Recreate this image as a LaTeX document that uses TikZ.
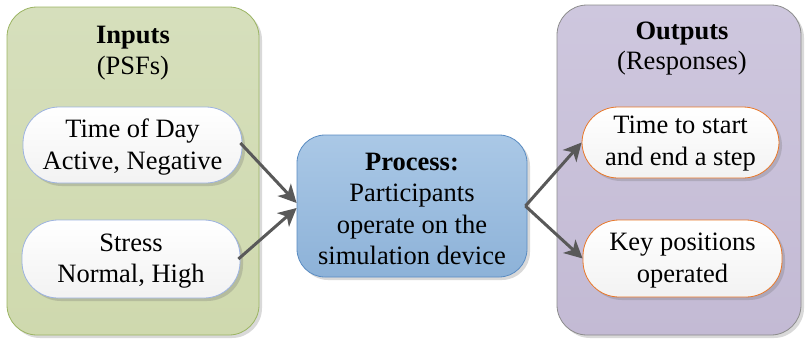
\documentclass[tikz,border=0pt]{standalone}
\usepackage{fontspec}
\setmainfont{Liberation Serif}
\usetikzlibrary{shadows,arrows.meta}

\definecolor{panelgreen}{HTML}{CFD9AE}
\definecolor{panelgreenTop}{HTML}{D6DFBC}
\definecolor{edgegreen}{HTML}{9BB462}
\definecolor{panelpurple}{HTML}{C3BAD4}
\definecolor{panelpurpleTop}{HTML}{CEC7DE}
\definecolor{edgegrey}{HTML}{8C8C8C}
\definecolor{procTop}{HTML}{AAC8E6}
\definecolor{procBot}{HTML}{8DB2D8}
\definecolor{procEdge}{HTML}{5A8CC2}
\definecolor{pillBlue}{HTML}{9DB3E0}
\definecolor{pillOrange}{HTML}{E8782A}
\definecolor{arrowgrey}{HTML}{595959}

\tikzset{
  txt/.style={font=\fontsize{26.5}{31.5}\selectfont, align=center, inner sep=0pt},
  softshadow/.style={drop shadow={shadow xshift=3pt, shadow yshift=-3pt, opacity=0.25, fill=black!60}},
  panel/.style={rounded corners=30pt, line width=0.8pt, softshadow},
  pill/.style={rounded corners=36pt, line width=0.8pt, top color=white, bottom color=black!5,
               softshadow, minimum height=76pt},
  flow/.style={draw=arrowgrey, line width=3pt, -{Stealth[length=18pt,width=18pt,inset=5pt]}}
}

\begin{document}
\begin{tikzpicture}[x=1pt,y=-1pt]
  \useasboundingbox (0,0) rectangle (805,340);

  % side panels
  \node[panel, draw=edgegreen, top color=panelgreenTop, bottom color=panelgreen,
        minimum width=252pt, minimum height=328pt] (inputs) at (133,171) {};
  \node[panel, draw=edgegrey, top color=panelpurpleTop, bottom color=panelpurple,
        minimum width=244pt, minimum height=330pt] (outputs) at (679,170) {};

  % panel titles
  \node[txt, anchor=base] (intitle) at (133,43) {\textbf{Inputs}};
  \node[txt, anchor=base] (insub) at (133,74) {(PSFs)};
  \node[txt, anchor=base] (outtitle) at (682,39) {\textbf{Outputs}};
  \node[txt, anchor=base] (outsub) at (682,69) {(Responses)};

  % input factors
  \node[pill, draw=pillBlue, minimum width=219pt] (tod) at (132.5,145) {};
  \node[txt] at ([yshift=-2pt]tod.center) {Time of Day\\Active, Negative};
  \node[pill, draw=pillBlue, minimum width=218pt, minimum height=78pt] (stress) at (131,259) {};
  \node[txt] at ([yshift=-2pt]stress.center) {Stress\\Normal, High};

  % responses
  \node[pill, draw=pillOrange, minimum width=197pt, minimum height=71pt] (tstep) at (680.5,142.5) {};
  \node[txt] at ([yshift=-1pt]tstep.center) {Time to start\\and end a step};
  \node[pill, draw=pillOrange, minimum width=199pt, minimum height=77pt] (keys) at (682.5,258.5) {};
  \node[txt] at ([yshift=-2pt]keys.center) {Key positions\\operated};

  % process
  \node[rounded corners=28pt, line width=0.8pt, draw=procEdge, top color=procTop, bottom color=procBot,
        softshadow, minimum width=230pt, minimum height=142pt] (proc) at (412,206) {};
  \node[txt] (proctext) at (412,209) {\textbf{Process:}\\Participants\\operate on the\\simulation device};

  % connectors
  \draw[flow] ([xshift=-2pt,yshift=2pt]tod.east) -- ([yshift=3pt]proc.west);
  \draw[flow] ([xshift=-2pt]stress.east) -- ([yshift=-2pt]proc.west);
  \draw[flow] ([xshift=-2pt]proc.east) -- (tstep.west);
  \draw[flow] ([xshift=-2pt]proc.east) -- (keys.west);
\end{tikzpicture}
\end{document}
